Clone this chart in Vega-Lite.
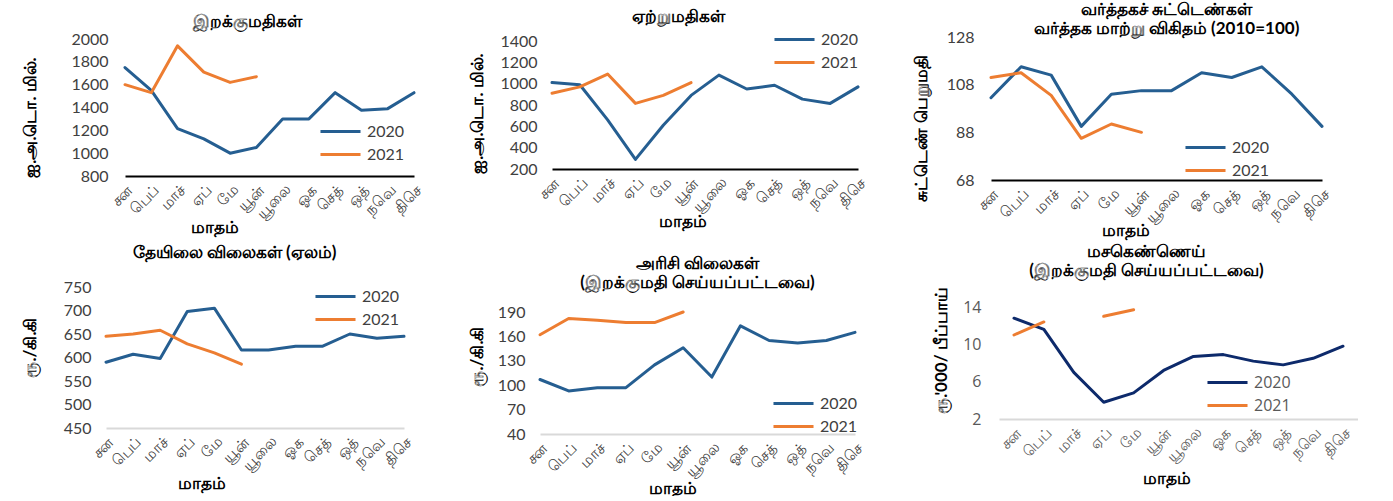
{
  "$schema": "https://vega.github.io/schema/vega-lite/v6.json",
  "autosize": {"type": "pad"},
  "padding": {"left": 20, "top": 0, "right": 0, "bottom": 0},
  "background": "white",
  "datasets": {
    "imp": [
      {"m":"சன","y":"2020","v":1750},{"m":"பெப்","y":"2020","v":1550},{"m":"மாச்","y":"2020","v":1215},{"m":"ஏப்","y":"2020","v":1125},{"m":"மே","y":"2020","v":1000},{"m":"யூன்","y":"2020","v":1050},{"m":"யூலை","y":"2020","v":1300},{"m":"ஓக","y":"2020","v":1300},{"m":"செத்","y":"2020","v":1530},{"m":"ஒத்","y":"2020","v":1375},{"m":"நவெ","y":"2020","v":1390},{"m":"திசெ","y":"2020","v":1530},
      {"m":"சன","y":"2021","v":1600},{"m":"பெப்","y":"2021","v":1530},{"m":"மாச்","y":"2021","v":1940},{"m":"ஏப்","y":"2021","v":1710},{"m":"மே","y":"2021","v":1620},{"m":"யூன்","y":"2021","v":1670}
    ],
    "exp": [
      {"m":"சன","y":"2020","v":1010},{"m":"பெப்","y":"2020","v":990},{"m":"மாச்","y":"2020","v":660},{"m":"ஏப்","y":"2020","v":290},{"m":"மே","y":"2020","v":610},{"m":"யூன்","y":"2020","v":890},{"m":"யூலை","y":"2020","v":1080},{"m":"ஓக","y":"2020","v":950},{"m":"செத்","y":"2020","v":985},{"m":"ஒத்","y":"2020","v":855},{"m":"நவெ","y":"2020","v":815},{"m":"திசெ","y":"2020","v":970},
      {"m":"சன","y":"2021","v":910},{"m":"பெப்","y":"2021","v":970},{"m":"மாச்","y":"2021","v":1090},{"m":"ஏப்","y":"2021","v":815},{"m":"மே","y":"2021","v":890},{"m":"யூன்","y":"2021","v":1010}
    ],
    "tot": [
      {"m":"சன","y":"2020","v":102.5},{"m":"பெப்","y":"2020","v":115.5},{"m":"மாச்","y":"2020","v":112},{"m":"ஏப்","y":"2020","v":90.5},{"m":"மே","y":"2020","v":104},{"m":"யூன்","y":"2020","v":105.5},{"m":"யூலை","y":"2020","v":105.5},{"m":"ஓக","y":"2020","v":113},{"m":"செத்","y":"2020","v":111},{"m":"ஒத்","y":"2020","v":115.5},{"m":"நவெ","y":"2020","v":104},{"m":"திசெ","y":"2020","v":90.5},
      {"m":"சன","y":"2021","v":111},{"m":"பெப்","y":"2021","v":113},{"m":"மாச்","y":"2021","v":103.5},{"m":"ஏப்","y":"2021","v":85.5},{"m":"மே","y":"2021","v":91.5},{"m":"யூன்","y":"2021","v":88}
    ],
    "tea": [
      {"m":"சன","y":"2020","v":590},{"m":"பெப்","y":"2020","v":607},{"m":"மாச்","y":"2020","v":598},{"m":"ஏப்","y":"2020","v":698},{"m":"மே","y":"2020","v":705},{"m":"யூன்","y":"2020","v":616},{"m":"யூலை","y":"2020","v":616},{"m":"ஓக","y":"2020","v":624},{"m":"செத்","y":"2020","v":624},{"m":"ஒத்","y":"2020","v":650},{"m":"நவெ","y":"2020","v":641},{"m":"திசெ","y":"2020","v":645},
      {"m":"சன","y":"2021","v":645},{"m":"பெப்","y":"2021","v":650},{"m":"மாச்","y":"2021","v":658},{"m":"ஏப்","y":"2021","v":629},{"m":"மே","y":"2021","v":610},{"m":"யூன்","y":"2021","v":586}
    ],
    "rice": [
      {"m":"சன","y":"2020","v":107},{"m":"பெப்","y":"2020","v":93},{"m":"மாச்","y":"2020","v":97},{"m":"ஏப்","y":"2020","v":97},{"m":"மே","y":"2020","v":125},{"m":"யூன்","y":"2020","v":146},{"m":"யூலை","y":"2020","v":110},{"m":"ஓக","y":"2020","v":173},{"m":"செத்","y":"2020","v":155},{"m":"ஒத்","y":"2020","v":152},{"m":"நவெ","y":"2020","v":155},{"m":"திசெ","y":"2020","v":165},
      {"m":"சன","y":"2021","v":162},{"m":"பெப்","y":"2021","v":182},{"m":"மாச்","y":"2021","v":180},{"m":"ஏப்","y":"2021","v":177},{"m":"மே","y":"2021","v":177},{"m":"யூன்","y":"2021","v":190}
    ],
    "oil": [
      {"m":"சன","y":"2020","v":12.8},{"m":"பெப்","y":"2020","v":11.6},{"m":"மாச்","y":"2020","v":7.0},{"m":"ஏப்","y":"2020","v":3.8},{"m":"மே","y":"2020","v":4.8},{"m":"யூன்","y":"2020","v":7.2},{"m":"யூலை","y":"2020","v":8.7},{"m":"ஓக","y":"2020","v":8.9},{"m":"செத்","y":"2020","v":8.2},{"m":"ஒத்","y":"2020","v":7.8},{"m":"நவெ","y":"2020","v":8.5},{"m":"திசெ","y":"2020","v":9.8},
      {"m":"சன","y":"2021","v":11.0},{"m":"பெப்","y":"2021","v":12.4},{"m":"மாச்","y":"2021","v":null},{"m":"ஏப்","y":"2021","v":13.0},{"m":"மே","y":"2021","v":13.7}
    ]
  },
  "bounds": "full",
  "align": "none",
  "spacing": 3,
  "resolve": {"scale": {"color": "independent"}, "legend": {"color": "independent"}},
  "vconcat": [
    {
      "bounds": "full", "spacing": 42,
      "resolve": {"scale": {"color": "independent"}, "legend": {"color": "independent"}},
      "hconcat": [
        {
          "bounds": "full", "spacing": 43,
          "resolve": {"scale": {"color": "independent"}, "legend": {"color": "independent"}},
          "hconcat": [
            {
              "bounds": "full", "spacing": 0,
              "resolve": {"scale": {"color": "independent"}, "legend": {"color": "independent"}},
              "vconcat": [
                {"width": 1, "height": 13, "data": {"values": []}, "mark": "point", "view": {"fill": "transparent", "stroke": null}},
                {
                  "width": 289, "height": 137,
                  "data": {"name": "imp"},
                  "title": {"text": "இறக்குமதிகள்", "dx": -22, "offset": 0},
                  "mark": {"type": "line"},
                  "encoding": {
                    "x": {"field": "m", "type": "ordinal", "sort": ["சன","பெப்","மாச்","ஏப்","மே","யூன்","யூலை","ஓக","செத்","ஒத்","நவெ","திசெ"], "scale": {"type": "point", "padding": 0},
                          "axis": {"title": "மாதம்", "titleX": 89, "titleY": 51, "domainColor": "#000000", "domainWidth": 2}},
                    "y": {"field": "v", "type": "quantitative", "scale": {"domain": [800, 2000], "nice": false, "zero": false},
                          "axis": {"values": [800,1000,1200,1400,1600,1800,2000], "format": "d", "title": "ஐ.அ.டொ.  மில்.", "titleX": -95, "titleY": 78, "labelPadding": 17}},
                    "color": {"field": "y", "type": "nominal", "scale": {"domain": ["2020","2021"], "range": ["#255e91","#ed7d31"]},
                              "legend": {"title": null, "orient": "none", "legendX": 201, "legendY": 78}}
                  }
                }
              ]
            },
            {
              "bounds": "full", "spacing": 0,
              "resolve": {"scale": {"color": "independent"}, "legend": {"color": "independent"}},
              "vconcat": [
                {"width": 1, "height": 8, "data": {"values": []}, "mark": "point", "view": {"fill": "transparent", "stroke": null}},
                {
                  "width": 306, "height": 128,
                  "data": {"name": "exp"},
                  "title": {"text": "ஏற்றுமதிகள்", "dx": -27, "offset": -1},
                  "mark": {"type": "line"},
                  "encoding": {
                    "x": {"field": "m", "type": "ordinal", "sort": ["சன","பெப்","மாச்","ஏப்","மே","யூன்","யூலை","ஓக","செத்","ஒத்","நவெ","திசெ"], "scale": {"type": "point", "padding": 0},
                          "axis": {"title": "மாதம்", "titleX": 130, "titleY": 52, "domainColor": "#000000", "domainWidth": 2}},
                    "y": {"field": "v", "type": "quantitative", "scale": {"domain": [200, 1400], "nice": false, "zero": false},
                          "axis": {"values": [200,400,600,800,1000,1200,1400], "format": "d", "title": "ஐ.அ.டொ.  மில்.", "titleX": -75, "titleY": 72, "labelPadding": 15}},
                    "color": {"field": "y", "type": "nominal", "scale": {"domain": ["2020","2021"], "range": ["#255e91","#ed7d31"]},
                              "legend": {"title": null, "orient": "none", "legendX": 228, "legendY": -16}}
                  }
                }
              ]
            }
          ]
        },
        {
          "bounds": "full", "spacing": 0,
          "resolve": {"scale": {"color": "independent"}, "legend": {"color": "independent"}},
          "vconcat": [
            {"width": 1, "height": 1, "data": {"values": []}, "mark": "point", "view": {"fill": "transparent", "stroke": null}},
            {
              "width": 331, "height": 143,
              "data": {"name": "tot"},
              "title": {"text": ["வர்த்தகச் சுட்டெண்கள்", "வர்த்தக  மாற்று  விகிதம் (2010=100)"], "dx": 10, "offset": -9},
              "mark": {"type": "line"},
              "encoding": {
                "x": {"field": "m", "type": "ordinal", "sort": ["சன","பெப்","மாச்","ஏப்","மே","யூன்","யூலை","ஓக","செத்","ஒத்","நவெ","திசெ"], "scale": {"type": "point", "padding": 0},
                      "axis": {"title": "மாதம்", "titleX": 134, "titleY": 50, "domainColor": "#000000", "domainWidth": 2}},
                "y": {"field": "v", "type": "quantitative", "scale": {"domain": [68, 128], "nice": false, "zero": false},
                      "axis": {"values": [68,88,108,128], "title": "சுட்டெண்  பெறுமதி", "titleX": -70, "titleY": 91, "labelPadding": 17}},
                "color": {"field": "y", "type": "nominal", "scale": {"domain": ["2020","2021"], "range": ["#255e91","#ed7d31"]},
                          "legend": {"title": null, "orient": "none", "legendX": 200, "legendY": 96}}
              }
            }
          ]
        }
      ]
    },
    {
      "bounds": "full", "spacing": 66,
      "resolve": {"scale": {"color": "independent"}, "legend": {"color": "independent"}},
      "hconcat": [
        {
          "bounds": "full", "spacing": 45,
          "resolve": {"scale": {"color": "independent"}, "legend": {"color": "independent"}},
          "hconcat": [
            {
              "bounds": "full", "spacing": 0,
              "resolve": {"scale": {"color": "independent"}, "legend": {"color": "independent"}},
              "vconcat": [
                {"width": 1, "height": 3, "data": {"values": []}, "mark": "point", "view": {"fill": "transparent", "stroke": null}},
                {
                  "width": 279, "height": 141,
                  "data": {"name": "tea"},
                  "title": {"text": "தேயிலை  விலைகள் (ஏலம்)", "dx": -30, "offset": 17},
                  "mark": {"type": "line"},
                  "encoding": {
                    "x": {"field": "m", "type": "ordinal", "sort": ["சன","பெப்","மாச்","ஏப்","மே","யூன்","யூலை","ஓக","செத்","ஒத்","நவெ","திசெ"], "scale": {"type": "point", "padding": 0, "range": [-19, 279]},
                          "axis": {"title": "மாதம்", "titleX": 76, "titleY": 55, "domainColor": "#d9d9d9", "domainWidth": 2}},
                    "y": {"field": "v", "type": "quantitative", "scale": {"domain": [450, 750], "nice": false, "zero": false},
                          "axis": {"values": [450,500,550,600,650,700,750], "title": "ரூ./கி.கி", "titleX": -76, "titleY": 60, "labelPadding": 15, "offset": 19}},
                    "color": {"field": "y", "type": "nominal", "scale": {"domain": ["2020","2021"], "range": ["#255e91","#ed7d31"]},
                              "legend": {"title": null, "orient": "none", "legendX": 196, "legendY": -5}}
                  }
                }
              ]
            },
            {
              "bounds": "full", "spacing": 0,
              "resolve": {"scale": {"color": "independent"}, "legend": {"color": "independent"}},
              "vconcat": [
                {"width": 1, "height": 14, "data": {"values": []}, "mark": "point", "view": {"fill": "transparent", "stroke": null}},
                {
                  "width": 315, "height": 122,
                  "data": {"name": "rice"},
                  "title": {"text": ["அரிசி  விலைகள்", "(இறக்குமதி  செய்யப்பட்டவை)"], "dx": 0, "offset": 12},
                  "mark": {"type": "line"},
                  "encoding": {
                    "x": {"field": "m", "type": "ordinal", "sort": ["சன","பெப்","மாச்","ஏப்","மே","யூன்","யூலை","ஓக","செத்","ஒத்","நவெ","திசெ"], "scale": {"type": "point", "padding": 0},
                          "axis": {"title": "மாதம்", "titleX": 132, "titleY": 54, "domainColor": "#d9d9d9", "domainWidth": 2}},
                    "y": {"field": "v", "type": "quantitative", "scale": {"domain": [40, 190], "nice": false, "zero": false},
                          "axis": {"values": [40,70,100,130,160,190], "title": "ரூ./கி.கி", "titleX": -63, "titleY": 44, "labelPadding": 15}},
                    "color": {"field": "y", "type": "nominal", "scale": {"domain": ["2020","2021"], "range": ["#255e91","#ed7d31"]},
                              "legend": {"title": null, "orient": "none", "legendX": 239, "legendY": 77}}
                  }
                }
              ]
            }
          ]
        },
        {
          "bounds": "full", "spacing": 0,
          "resolve": {"scale": {"color": "independent"}, "legend": {"color": "independent"}},
          "vconcat": [
            {"width": 1, "height": 1, "data": {"values": []}, "mark": "point", "view": {"fill": "transparent", "stroke": null}},
            {
              "width": 359, "height": 112,
              "data": {"name": "oil"},
              "title": {"text": ["மசகெண்ணெய்", "(இறக்குமதி  செய்யப்பட்டவை)"], "dx": -32, "offset": 5},
              "mark": {"type": "line"},
              "encoding": {
                "x": {"field": "m", "type": "ordinal", "sort": ["சன","பெப்","மாச்","ஏப்","மே","யூன்","யூலை","ஓக","செத்","ஒத்","நவெ","திசெ"], "scale": {"type": "point", "padding": 0.5},
                      "axis": {"title": "மாதம்", "titleX": 167, "titleY": 59, "domainColor": "#d9d9d9", "domainWidth": 2, "labelColor": "#595959"}},
                "y": {"field": "v", "type": "quantitative", "scale": {"domain": [2, 14], "nice": false, "zero": false},
                      "axis": {"values": [2,6,10,14], "title": "ரூ.'000/  பீப்பாய்", "titleX": -58, "titleY": 43, "labelPadding": 18, "labelColor": "#595959", "labelFont": "Open Sans"}},
                "color": {"field": "y", "type": "nominal", "scale": {"domain": ["2020","2021"], "range": ["#0d2a6b","#ed7d31"]},
                          "legend": {"title": null, "orient": "none", "legendX": 214, "legendY": 61, "labelColor": "#595959", "labelFont": "Open Sans"}}
              }
            }
          ]
        }
      ]
    }
  ],
  "config": {
    "view": {"stroke": null},
    "font": "Lato",
    "axis": {"grid": false, "ticks": false, "labelFont": "Lato", "labelFontSize": 16, "labelColor": "#404040",
             "titleFont": "Lato", "titleFontWeight": "bold", "titleFontSize": 17, "titleColor": "#000000",
             "titleAlign": "center", "titleBaseline": "middle"},
    "axisX": {"labelAngle": -45, "labelFontSize": 15, "labelPadding": 6},
    "axisY": {"domain": false},
    "title": {"font": "Lato", "fontSize": 17, "fontWeight": "bold", "color": "#000000", "frame": "group", "anchor": "middle", "lineHeight": 19},
    "legend": {"symbolType": "M-1.54,0H1.54", "symbolSize": 676, "symbolStrokeWidth": 3, "labelFont": "Lato", "labelFontSize": 16, "labelColor": "#404040", "labelOffset": 12, "rowPadding": 0},
    "line": {"strokeWidth": 3, "strokeCap": "round", "strokeJoin": "round"}
  }
}
